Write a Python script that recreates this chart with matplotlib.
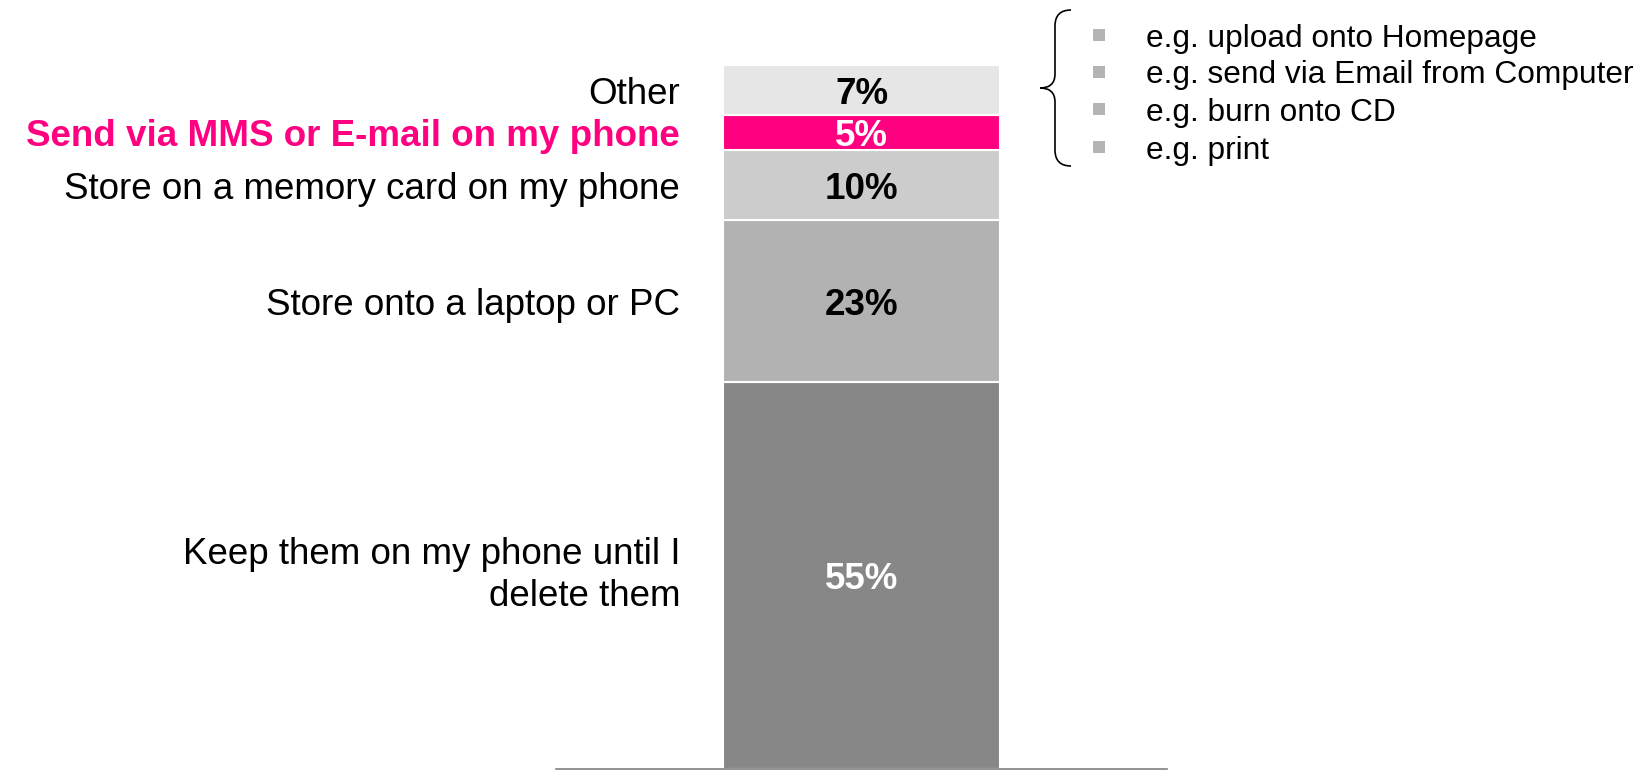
import matplotlib
matplotlib.use("Agg")

import matplotlib.pyplot as plt
import matplotlib.transforms as mtransforms
from matplotlib.path import Path
from matplotlib.patches import PathPatch

plt.rcParams["font.family"] = ["Liberation Sans", "DejaVu Sans"]

# stacked shares, bottom to top
categories = ["Keep them on my phone until I\ndelete them",
              "Store onto a laptop or PC",
              "Store on a memory card on my phone",
              "Send via MMS or E-mail on my phone",
              "Other"]
shares = [55, 23, 10, 5, 7]
other_examples = ["e.g. upload onto Homepage",
                  "e.g. send via Email from Computer",
                  "e.g. burn onto CD",
                  "e.g. print"]

MAGENTA = "#ff0080"
seg_colors = ["#878787", "#b2b2b2", "#cccccc", MAGENTA, "#e6e6e6"]
value_colors = ["white", "black", "black", "white", "black"]
cat_colors = ["black", "black", "black", MAGENTA, "black"]
cat_weights = ["normal", "normal", "normal", "bold", "normal"]

W, H = 1646, 770
fig = plt.figure(figsize=(W / 100, H / 100), dpi=100)

# bar axis: spans the grey baseline, y in percent
ax = fig.add_axes([556 / W, 1.5 / H, 611 / W, (769 - 66) / H])
ax.set_xlim(0, 1)
ax.set_ylim(0, sum(shares))
for side in ["left", "right", "top"]:
    ax.spines[side].set_visible(False)
ax.spines["bottom"].set_color("#808080")
ax.spines["bottom"].set_linewidth(1.2)
ax.set_xticks([])
ax.set_yticks([])
ax.patch.set_alpha(0)

label_tf = mtransforms.blended_transform_factory(ax.transAxes, ax.transData)

bottom = 0
for cat, val, col, vcol, ccol, cw in zip(categories, shares, seg_colors,
                                          value_colors, cat_colors, cat_weights):
    ax.bar(0.5, val, width=0.452, bottom=bottom, color=col,
           edgecolor="white", linewidth=1.5)
    mid = bottom + val / 2
    ax.text(0.5, mid, f"{val}%", ha="center", va="center_baseline",
            fontsize=26.5, fontweight="bold", color=vcol)
    va = "center" if "\n" in cat else "center_baseline"
    ax.text(0.203, mid, cat, transform=label_tf, ha="right", va=va,
            fontsize=26.5, color=ccol, fontweight=cw, linespacing=1.25)
    bottom += val

# overlay in pixel coordinates for the brace and the "Other" breakdown
ov = fig.add_axes([0, 0, 1, 1])
ov.set_xlim(0, W)
ov.set_ylim(H, 0)
ov.axis("off")
ov.patch.set_alpha(0)

x_tip, x_mid, x_end = 1040, 1055, 1071
y_top, y_mid, y_bot = 10, 88, 166
verts = [(x_end, y_top), (x_mid, y_top), (x_mid, y_top + 16),
         (x_mid, y_mid - 14), (x_mid, y_mid), (x_tip, y_mid),
         (x_mid, y_mid), (x_mid, y_mid + 14),
         (x_mid, y_bot - 16), (x_mid, y_bot), (x_end, y_bot)]
codes = [Path.MOVETO, Path.CURVE3, Path.CURVE3,
         Path.LINETO, Path.CURVE3, Path.CURVE3,
         Path.CURVE3, Path.CURVE3,
         Path.LINETO, Path.CURVE3, Path.CURVE3]
ov.add_patch(PathPatch(Path(verts, codes), facecolor="none",
                       edgecolor="black", linewidth=1.2))

row_y = [35, 72, 109, 147]
for y, txt in zip(row_y, other_examples):
    ov.plot([1099], [y], marker="s", markersize=9, color="#b4b4b4",
            markeredgewidth=0)
    ov.text(1146, y, txt, ha="left", va="center_baseline", fontsize=22.8,
            color="black")

fig.savefig("out.png", dpi=100, facecolor="white")
